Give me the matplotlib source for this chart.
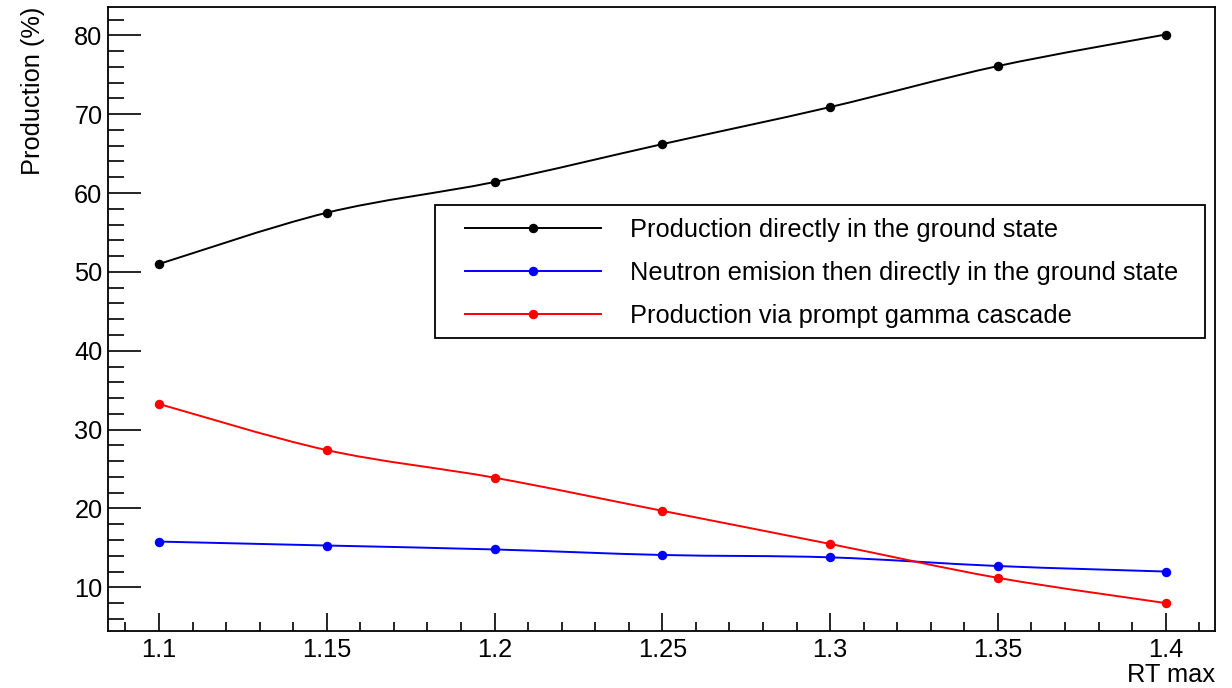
import numpy as np
import matplotlib
matplotlib.use("Agg")
import matplotlib.pyplot as plt
from matplotlib.path import Path
from matplotlib.patches import PathPatch, Rectangle
from matplotlib.lines import Line2D
from matplotlib.ticker import FixedLocator, MultipleLocator, FixedFormatter

# ---------------- data ----------------
rt_max = [1.10, 1.15, 1.20, 1.25, 1.30, 1.35, 1.40]
ground_state = [51.0, 57.5, 61.4, 66.2, 70.9, 76.1, 80.1]
neutron_emission = [15.8, 15.3, 14.8, 14.1, 13.8, 12.7, 12.0]
gamma_cascade = [33.25, 27.4, 23.9, 19.7, 15.5, 11.2, 8.0]

series_labels = [
    "Production directly in the ground state",
    "Neutron emision then directly in the ground state",
    "Production via prompt gamma cascade",
]
series_colors = ["#000000", "#0000ff", "#ff0000"]

x_ticks = [1.10, 1.15, 1.20, 1.25, 1.30, 1.35, 1.40]
x_tick_labels = ["1.1", "1.15", "1.2", "1.25", "1.3", "1.35", "1.4"]
y_ticks = [10, 20, 30, 40, 50, 60, 70, 80]
y_tick_labels = ["10", "20", "30", "40", "50", "60", "70", "80"]

x_label = "RT max"
y_label = "Production (%)"

# ---------------- style ----------------
plt.rcParams["font.family"] = ["Liberation Sans", "DejaVu Sans"]
FS = 18.3

fig = plt.figure(figsize=(12.32, 6.88), dpi=100)
ax = fig.add_axes([108 / 1232, 57 / 688, 1107 / 1232, 624 / 688])


def smooth_path(xs, ys):
    """Catmull-Rom curve through the data points, expressed as cubic Bezier segments."""
    pts = np.column_stack([np.asarray(xs, float), np.asarray(ys, float)])
    n = len(pts)
    verts = [pts[0]]
    codes = [Path.MOVETO]
    for i in range(n - 1):
        p0 = pts[i - 1] if i > 0 else pts[i]
        p1 = pts[i]
        p2 = pts[i + 1]
        p3 = pts[i + 2] if i + 2 < n else pts[i + 1]
        verts += [p1 + (p2 - p0) / 6.0, p2 - (p3 - p1) / 6.0, p2]
        codes += [Path.CURVE4] * 3
    return Path(verts, codes)


handles = []
for ys, col, lab in zip([ground_state, neutron_emission, gamma_cascade], series_colors, series_labels):
    ax.add_patch(PathPatch(smooth_path(rt_max, ys), facecolor="none", edgecolor=col, lw=1.4, zorder=2))
    ax.plot(rt_max, ys, linestyle="none", marker="o", markersize=5.8, color=col, zorder=3)
    handles.append(Line2D([], [], color=col, lw=1.4, marker="o", markersize=5.8, label=lab))

ax.set_xlim(1.0848, 1.4147)
ax.set_ylim(4.46, 83.59)

ax.xaxis.set_major_locator(FixedLocator(x_ticks))
ax.xaxis.set_major_formatter(FixedFormatter(x_tick_labels))
ax.xaxis.set_minor_locator(MultipleLocator(0.01))
ax.yaxis.set_major_locator(FixedLocator(y_ticks))
ax.yaxis.set_major_formatter(FixedFormatter(y_tick_labels))
ax.yaxis.set_minor_locator(MultipleLocator(2))

ax.tick_params(axis="both", which="both", direction="in", top=False, right=False,
               width=1.2, color="black", labelsize=FS)
ax.tick_params(axis="y", which="major", length=23.5, pad=4)
ax.tick_params(axis="y", which="minor", length=11.5)
ax.tick_params(axis="x", which="major", length=13, pad=5)
ax.tick_params(axis="x", which="minor", length=6.5)

for s in ax.spines.values():
    s.set_linewidth(1.3)
    s.set_color("black")

ax.set_xlabel(x_label, fontsize=FS)
ax.xaxis.set_label_coords(1.0, (631 - 675) / 624)
ax.xaxis.label.set_horizontalalignment("right")
ax.xaxis.label.set_verticalalignment("center")

ax.set_ylabel(y_label, fontsize=FS)
ax.yaxis.set_label_coords((33 - 108) / 1107, 1.0)
ax.yaxis.label.set_horizontalalignment("right")
ax.yaxis.label.set_verticalalignment("center")

# legend frame (drawn separately so the inner padding matches)
frame = Rectangle((0.2954, 0.4696), 0.6956, 0.2131, transform=ax.transAxes,
                  facecolor="white", edgecolor="black", lw=1.3, zorder=4)
ax.add_patch(frame)
leg = ax.legend(handles=handles, loc="center left",
                bbox_to_anchor=((465 - 108) / 1107, (631 - 273) / 624),
                fontsize=FS, frameon=False, numpoints=1, handlelength=5.35,
                handletextpad=1.14, labelspacing=0.75, borderpad=0, borderaxespad=0)
leg.set_zorder(5)

fig.savefig("out.png", dpi=100, facecolor="white")
